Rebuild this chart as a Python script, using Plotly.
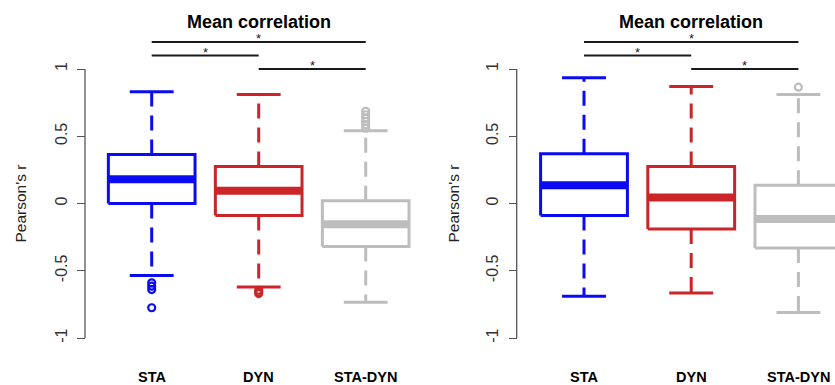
import plotly.graph_objects as go

# ---------------- data ----------------
cats = ["STA", "DYN", "STA-DYN"]
colors = ["#0B0BF2", "#CC2529", "#BDBDBD"]
title_text = "Mean correlation"
y_title = "Pearson's r"
y_ticks = [-1, -0.5, 0, 0.5, 1]
y_tick_labels = ["-1", "-0.5", "0", "0.5", "1"]

# left panel
a_q1 = [0.00, -0.09, -0.32]
a_med = [0.18, 0.095, -0.155]
a_q3 = [0.365, 0.275, 0.02]
a_lo = [-0.535, -0.62, -0.735]
a_hi = [0.83, 0.81, 0.54]
a_out = [[-0.59, -0.615, -0.64, -0.775],
         [-0.645, -0.66, -0.67],
         [0.56, 0.585, 0.61, 0.635, 0.66, 0.685]]

# right panel
b_q1 = [-0.09, -0.19, -0.33]
b_med = [0.135, 0.045, -0.115]
b_q3 = [0.37, 0.275, 0.135]
b_lo = [-0.69, -0.665, -0.81]
b_hi = [0.935, 0.87, 0.81]
b_out = [[], [], [0.865]]

# significance comparisons (index pairs) and labels
sig_pairs = [(0, 2), (0, 1), (1, 2)]
sig_labels = ["*", "*", "*"]
sig_levels = [1.2, 1.1, 1.0]

# ---------------- styling ----------------
W, H = 835, 385
HALF = 0.405       # half box width (x units)
CAP = 0.205        # half whisker cap width
FONT = "Liberation Sans, Arial, Helvetica, sans-serif"
YR = [-1.3494, 1.5130]

fig = go.Figure()

panels = [
    dict(xa="x", ya="y", q1=a_q1, med=a_med, q3=a_q3, lo=a_lo, hi=a_hi, out=a_out,
         axis_px=85, ytitle_px=20),
    dict(xa="x2", ya="y2", q1=b_q1, med=b_med, q3=b_q3, lo=b_lo, hi=b_hi, out=b_out,
         axis_px=516.7, ytitle_px=453),
]

annotations = []
shapes = []

for p in panels:
    for i, cat in enumerate(cats):
        c = i + 1
        col = colors[i]
        q1, m, q3, lo, hi = p["q1"][i], p["med"][i], p["q3"][i], p["lo"][i], p["hi"][i]
        common = dict(xaxis=p["xa"], yaxis=p["ya"], showlegend=False,
                      hoverinfo="skip", mode="lines")
        # whiskers (dashed)
        fig.add_trace(go.Scatter(x=[c, c], y=[q3, hi],
                                 line=dict(color=col, width=3, dash="15px,9px"), **common))
        fig.add_trace(go.Scatter(x=[c, c], y=[q1, lo],
                                 line=dict(color=col, width=3, dash="15px,9px"), **common))
        # caps
        fig.add_trace(go.Scatter(x=[c - CAP, c + CAP], y=[hi, hi],
                                 line=dict(color=col, width=3), **common))
        fig.add_trace(go.Scatter(x=[c - CAP, c + CAP], y=[lo, lo],
                                 line=dict(color=col, width=3), **common))
        # box
        fig.add_trace(go.Scatter(x=[c - HALF, c + HALF, c + HALF, c - HALF, c - HALF],
                                 y=[q1, q1, q3, q3, q1],
                                 fill="toself", fillcolor="white",
                                 line=dict(color=col, width=3), **common))
        # median
        fig.add_trace(go.Scatter(x=[c - HALF, c + HALF], y=[m, m],
                                 line=dict(color=col, width=8), **common))
        # outliers
        outs = p["out"][i]
        if outs:
            fig.add_trace(go.Scatter(x=[c] * len(outs), y=outs, mode="markers",
                                     xaxis=p["xa"], yaxis=p["ya"], showlegend=False,
                                     hoverinfo="skip", cliponaxis=False,
                                     marker=dict(symbol="circle-open", size=7,
                                                 color=col, line=dict(width=2.2, color=col))))
        # category label
        annotations.append(dict(x=c, y=-1.288, xref=p["xa"], yref=p["ya"], text=cat,
                                showarrow=False, yanchor="middle",
                                font=dict(family=FONT, size=14.5, color="black", weight=700)))

    # significance bars
    for (a, b), lab, lev in zip(sig_pairs, sig_labels, sig_levels):
        fig.add_trace(go.Scatter(x=[a + 1, b + 1], y=[lev, lev], mode="lines",
                                 xaxis=p["xa"], yaxis=p["ya"], showlegend=False,
                                 hoverinfo="skip",
                                 line=dict(color="#1a1a1a", width=2)))
        annotations.append(dict(x=(a + b) / 2 + 1, y=lev, xref=p["xa"], yref=p["ya"],
                                text=lab, showarrow=False, yanchor="bottom", yshift=-6,
                                font=dict(family=FONT, size=13, color="#1a1a1a")))

    # title
    annotations.append(dict(x=2, y=1.352, xref=p["xa"], yref=p["ya"], text=title_text,
                            showarrow=False, yanchor="middle",
                            font=dict(family=FONT, size=18, color="black", weight=700)))
    # y title
    annotations.append(dict(x=p["ytitle_px"] / W, y=0, xref="paper", yref=p["ya"],
                            text=y_title, showarrow=False, textangle=-90,
                            xanchor="center", yanchor="middle",
                            font=dict(family=FONT, size=15.5, color="#222")))
    # R-style axis line spanning only the tick range
    shapes.append(dict(type="line", xref="paper", yref=p["ya"],
                       x0=p["axis_px"] / W, x1=p["axis_px"] / W,
                       y0=y_ticks[0], y1=y_ticks[-1],
                       line=dict(color="#555", width=1.3)))

yaxis_common = dict(range=YR, showgrid=False, zeroline=False, showline=False,
                    tickmode="array", tickvals=y_ticks, ticktext=y_tick_labels,
                    ticks="outside", ticklen=8, tickwidth=1.3, tickcolor="#555",
                    tickangle=-90, ticklabelstandoff=4,
                    tickfont=dict(family=FONT, size=16, color="#333"),
                    anchor="free")

fig.update_layout(
    width=W, height=H,
    margin=dict(l=0, r=0, t=0, b=0),
    paper_bgcolor="white", plot_bgcolor="white",
    showlegend=False,
    hovermode=False,
    xaxis=dict(domain=[0, 420 / W], range=[-0.4178, 3.5075], visible=False),
    xaxis2=dict(domain=[420 / W, 1], range=[-0.5299, 3.3414], visible=False),
    yaxis=dict(position=85 / W, **yaxis_common),
    yaxis2=dict(position=516.7 / W, **yaxis_common),
    annotations=annotations,
    shapes=shapes,
)

fig.write_html("out.html", config={"displayModeBar": False},
               post_script="document.body.style.margin='0';")
